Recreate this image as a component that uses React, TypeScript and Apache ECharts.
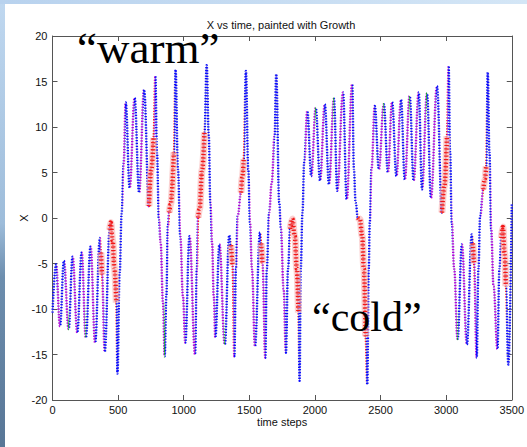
import React, { useEffect, useRef } from 'react';
import * as echarts from 'echarts';

// time steps of the key points
const times = [
  0, 27, 57, 87, 123, 153, 189, 222, 254, 290,
  325, 361, 369, 377, 398, 436, 444, 458, 472, 486,
  495, 512, 527, 542, 558, 588, 626, 660, 698, 735,
  753, 770, 784, 796, 811, 824, 842, 855, 868, 879,
  890, 900, 925, 938, 956, 974, 994, 1012, 1044, 1087,
  1100, 1110, 1120, 1141, 1158, 1175, 1191, 1203, 1216, 1229,
  1241, 1272, 1313, 1347, 1360, 1372, 1386, 1398, 1411, 1437,
  1447, 1457, 1474, 1492, 1505, 1520, 1543, 1581, 1590, 1600,
  1622, 1633, 1651, 1671, 1692, 1705, 1728, 1741, 1761, 1779,
  1795, 1811, 1828, 1846, 1862, 1874, 1883, 1892, 1905, 1918,
  1942, 1972, 2006, 2039, 2075, 2107, 2145, 2170, 2214, 2242,
  2284, 2297, 2310, 2327, 2343, 2360, 2373, 2386, 2399, 2410,
  2418, 2431, 2456, 2487, 2525, 2556, 2588, 2621, 2656, 2685,
  2722, 2752, 2791, 2816, 2854, 2884, 2930, 2968, 2986, 3006,
  3019, 3030, 3043, 3061, 3087, 3120, 3158, 3195, 3203, 3212,
  3233, 3246, 3259, 3284, 3295, 3305, 3317, 3330, 3343, 3361,
  3391, 3406, 3420, 3432, 3445, 3455, 3474, 3500,
];

// X value at each of those time steps
const xValues = [
  -10.4, -5.1, -11.9, -4.7, -12.2, -4.25, -12.6, -3.8, -13.15, -3.15,
  -13.7, -2.2, -3.8, -6.2, -14.7, -1.3, -0.5, -2.5, -5.5, -9.3,
  -17.1, -6, 0.5, 6, 12.7, 3.3, 13.2, 2.8, 14.1, 1.3,
  5.35, 8.8, 15.6, 7.2, -0.15, -2.7, -9.3, -15.2, -8.6, -0.9,
  0.6, 1.5, 7.2, 16.3, 5.35, -2.0, -8.6, -13.7, -2.0, -15.0,
  -5.6, 0.04, 0.95, 5.35, 9.4, 16.8, 9.0, 1.7, -2.7, -8.6,
  -13.15, -2.9, -13.9, -1.9, -3.0, -5.2, -15.2, -5.6, 0.2, 2.8,
  4.5, 6.45, 16.15, 5.35, -0.5, -5.6, -14.1, -1.6, -2.8, -5.0,
  -15.35, -5.6, 0.6, 3.9, 9.0, 15.8, 1.7, -1.2, -7.8, -14.8,
  -5.6, -1.2, -0.1, -2.0, -5.6, -10.4, -17.9, -5.6, 0.6, 6.1,
  11.76, 4.6, 12.1, 4.1, 12.5, 3.7, 13.1, 3.0, 13.8, 2.05,
  14.7, 5.35, 1.7, 0.04, -0.15, -2.0, -5.6, -13.0, -18.3, -5.6,
  -0.5, 5.35, 12.3, 5.35, 12.5, 5.0, 12.75, 4.6, 13.0, 4.2,
  13.4, 4.1, 13.8, 3.15, 13.7, 2.2, 14.5, 0.6, 3.5, 9.0,
  16.7, 7.2, -0.5, -5.6, -13.3, -2.9, -13.9, -1.8, -2.8, -5.0,
  -15.35, -5.6, 0.2, 3.15, 4.3, 5.7, 16.0, 7.2, -1.2, -7.5,
  -14.4, -5.6, -2.2, -1.0, -3.8, -7.5, -16.1, 1.5,
];

// stretches of the trajectory marked with red asterisks (start and end time steps)
const redRanges = [
  [369, 377], [436, 486], [735, 770], [890, 925], [1110, 1158], [1360, 1372],
  [1437, 1457], [1590, 1600], [1811, 1874], [2327, 2386], [2968, 3006],
  [3203, 3212], [3284, 3305], [3420, 3455],
];

// stretches painted magenta
const magentaRanges = [
  [32, 54], [92, 120], [158, 186], [227, 251], [295, 322], [362, 369], [377, 395],
  [535, 552], [592, 620], [664, 692], [726, 735], [770, 779], [815, 850], [882, 890],
  [972, 1008], [1048, 1083], [1104, 1110], [1210, 1238], [1276, 1309], [1372, 1383],
  [1408, 1437], [1506, 1540], [1600, 1618], [1652, 1690], [1745, 1775], [1925, 1938],
  [1976, 2002], [2043, 2071], [2111, 2141], [2174, 2210], [2246, 2280], [2425, 2450],
  [2491, 2521], [2560, 2584], [2625, 2652], [2689, 2718], [2756, 2787], [2820, 2850],
  [2888, 2926], [3006, 3015], [3046, 3083], [3124, 3154], [3212, 3229], [3262, 3284],
  [3345, 3386],
];

// stretches painted green
const greenRanges = [
  [54, 57], [120, 123], [251, 254], [620, 624], [850, 854], [1008, 1011], [1238, 1241],
  [1309, 1312], [1540, 1543], [1741, 1745], [2002, 2006], [2141, 2145], [2210, 2214],
  [2521, 2525], [2718, 2722], [2850, 2854], [3083, 3087], [3386, 3390],
];

const chartTitle = 'X vs time, painted with Growth';
const xName = 'time steps';
const yName = 'X';
const warmLabel = '\u201Cwarm\u201D';
const coldLabel = '\u201Ccold\u201D';

export default function App() {
  const ref = useRef<HTMLDivElement>(null);
  useEffect(() => {
    if (!ref.current) return;
    const chart = echarts.init(ref.current, null, { renderer: 'svg' });
    const data = times.map((t, i) => [t, xValues[i]]);
    const inRed = (t: number) => redRanges.some(([a, b]) => t >= a && t <= b);
    const redData = times.map((t, i) => (inRed(t) ? [t, xValues[i]] : [t, null]));
    const mk = (ranges: number[][], color: string) =>
      ranges.map(([a, b]) => ({ gte: a, lt: b, color }));
    const pieces1 = [
      ...mk(redRanges, '#ff1a1a'),
      ...mk(magentaRanges, '#b400dc'),
      ...mk(greenRanges, '#10a030'),
    ].sort((p, q) => p.gte - q.gte);
    const axisColor = '#555';
    const labelFont = { fontFamily: 'Liberation Sans, Arial, sans-serif', fontSize: 11, color: '#111' };
    const xBase = {
      type: 'value', min: 0, max: 3500, interval: 500,
      axisLine: { show: true, onZero: false, lineStyle: { color: axisColor, width: 1 } },
      axisTick: { show: true, inside: true, length: 5, lineStyle: { color: axisColor } },
      splitLine: { show: false },
    };
    const yBase = {
      type: 'value', min: -20, max: 20, interval: 5,
      axisLine: { show: true, onZero: false, lineStyle: { color: axisColor, width: 1 } },
      axisTick: { show: true, inside: true, length: 5, lineStyle: { color: axisColor } },
      splitLine: { show: false },
    };
    const common = {
      type: 'line', xAxisIndex: 0, yAxisIndex: 0, smooth: 0.4, smoothMonotone: 'x',
      showSymbol: false, silent: true, connectNulls: false,
    };
    const option = {
      animation: false,
      backgroundColor: '#ffffff',
      grid: { left: 52.5, right: 13.5, top: 36, bottom: 47, containLabel: false },
      xAxis: [
        {
          ...xBase, position: 'bottom',
          name: xName, nameLocation: 'middle', nameGap: 16, nameMoveOverlap: false,
          nameTextStyle: { ...labelFont },
          axisLabel: { ...labelFont, margin: 4, formatter: (v: number) => String(v) },
        },
        { ...xBase, position: 'top', axisLabel: { show: false } },
      ],
      yAxis: [
        {
          ...yBase, position: 'left',
          name: yName, nameLocation: 'middle', nameGap: 23, nameRotate: 90, nameMoveOverlap: false,
          nameTextStyle: { ...labelFont },
          axisLabel: { ...labelFont, margin: 5, formatter: (v: number) => String(v) },
        },
        { ...yBase, position: 'right', axisLabel: { show: false } },
      ],
      visualMap: [
        {
          type: 'piecewise', show: false, dimension: 0, seriesIndex: 1,
          pieces: pieces1, outOfRange: { color: '#0a0aff' },
        },
      ],
      series: [
        { ...common, data, z: 1, lineStyle: { color: '#a8a8d0', width: 1 } },
        { ...common, data, z: 2, lineStyle: { width: 2.4, type: [1.3, 1.5] } },
        { ...common, data: redData, z: 3, lineStyle: { color: '#f8b4b4', width: 7, opacity: 0.6 } },
        { ...common, data: redData, z: 4, lineStyle: { color: '#f01818', width: 4.5, type: [1.2, 2.3] } },
      ],
      graphic: [
        {
          type: 'rect', left: 0, top: 0, z: 0, silent: true,
          shape: { x: 0, y: 0, width: 5, height: 447 },
          style: {
            fill: new echarts.graphic.LinearGradient(0, 0, 0, 1, [
              { offset: 0, color: '#c0d8f0' },
              { offset: 0.5, color: '#9dbcda' },
              { offset: 0.62, color: '#6d8eae' },
              { offset: 1, color: '#587696' },
            ]),
          },
        },
        {
          type: 'rect', left: 0, top: 0, z: 0, silent: true,
          shape: { x: 0, y: 0, width: 527, height: 4 },
          style: {
            fill: new echarts.graphic.LinearGradient(0, 0, 1, 0, [
              { offset: 0, color: '#b8d2ee' },
              { offset: 1, color: '#d4e6f6' },
            ]),
          },
        },
        {
          type: 'text', x: 281, y: 25, z: 10, silent: true,
          style: {
            text: chartTitle, fill: '#111', font: '11px "Liberation Sans", Arial, sans-serif',
            textAlign: 'center', textVerticalAlign: 'middle',
          },
        },
        {
          type: 'text', x: 77, y: 48, z: 10, silent: true,
          style: {
            text: warmLabel, fill: '#000', font: '45px "Liberation Serif", "Times New Roman", serif',
            textAlign: 'left', textVerticalAlign: 'middle',
          },
        },
        {
          type: 'text', x: 312, y: 317, z: 10, silent: true,
          style: {
            text: coldLabel, fill: '#000', font: '42px "Liberation Serif", "Times New Roman", serif',
            textAlign: 'left', textVerticalAlign: 'middle',
          },
        },
      ],
    };
    chart.setOption(option as any);
    return () => chart.dispose();
  }, []);
  return (
    <div
      ref={ref}
      style={{ position: 'fixed', left: 0, top: 0, width: '527px', height: '447px' }}
    />
  );
}
